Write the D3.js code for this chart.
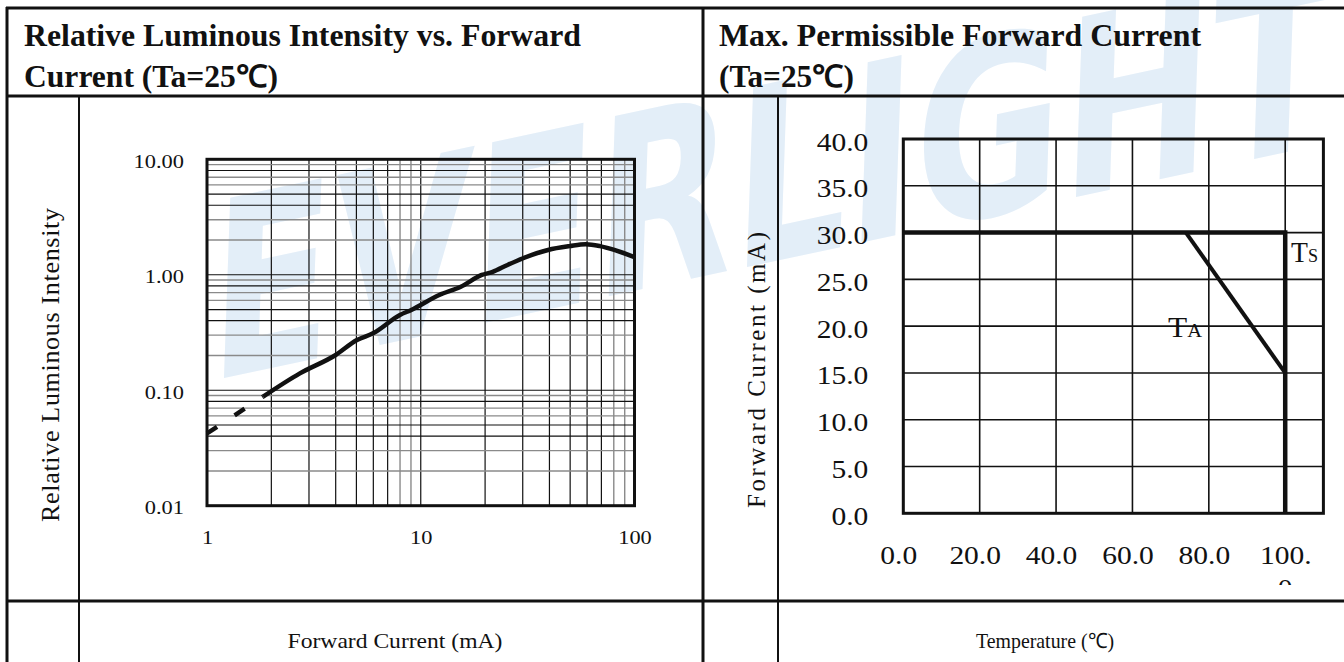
<!DOCTYPE html>
<html>
<head>
<meta charset="utf-8">
<script src="https://cdn.jsdelivr.net/npm/d3@7"></script>
<style>
  body { margin: 0; background: #fff; }
  svg { display: block; }
</style>
</head>
<body>
<div id="chart"></div>
<script>
// ---- data ----
var lumCurrent   = [1.83, 2.72, 4.0, 5.03, 5.98, 7.99, 9.03, 12.2, 15.4, 19.3, 21.7, 25.3, 30.1, 39.4, 49.7, 59.1, 68.9, 80.4, 100];
var lumIntensity = [0.088, 0.140, 0.202, 0.272, 0.311, 0.449, 0.496, 0.668, 0.787, 0.996, 1.06, 1.21, 1.39, 1.64, 1.77, 1.84, 1.77, 1.64, 1.42];
var dashCurrent   = [1, 1.83];
var dashIntensity = [0.0423, 0.088];
var lumXTicks = [1, 10, 100];
var lumYTicks = [0.01, 0.1, 1, 10];

var tsTemp    = [0, 100, 100];
var tsCurrent = [30, 30, 0];
var taTemp    = [74, 100];
var taCurrent = [30, 15];
var tempTicks = [0, 20, 40, 60, 80, 100];
var tempTickLabels = ["0.0", "20.0", "40.0", "60.0", "80.0", "100."];
var curTicks = [0, 5, 10, 15, 20, 25, 30, 35, 40];

var SX = 1.18;   // the scan is a bit wider than tall
var SERIF = "'Liberation Serif','Times New Roman',Times,serif";
var INK = "#111";

var svg = d3.select("#chart").append("svg")
    .attr("width", 1344)
    .attr("height", 662);

svg.append("rect").attr("width", 1344).attr("height", 662).attr("fill", "#fff");

// watermark
svg.append("text")
    .attr("transform", "translate(770,262) rotate(-12) skewX(-14)")
    .attr("text-anchor", "middle")
    .attr("font-family", "'DejaVu Sans',sans-serif")
    .attr("font-weight", "bold")
    .attr("font-size", 240)
    .attr("textLength", 1150)
    .attr("lengthAdjust", "spacingAndGlyphs")
    .attr("fill", "#e3eef8")
    .text("EVERLIGHT");

function txt(g, x, y, s, size, anchor) {
    return g.append("text")
        .attr("transform", "translate(" + x + "," + y + ") scale(" + SX + ",1)")
        .attr("text-anchor", anchor || "start")
        .attr("font-family", SERIF)
        .attr("font-size", size)
        .attr("fill", INK)
        .text(s);
}

function fitted(x, y, s, size, len, weight) {
    return svg.append("text")
        .attr("x", x).attr("y", y)
        .attr("font-family", SERIF)
        .attr("font-size", size)
        .attr("font-weight", weight || "normal")
        .attr("textLength", len)
        .attr("lengthAdjust", "spacingAndGlyphs")
        .attr("fill", INK)
        .text(s);
}

// ---- table frame ----
var frame = svg.append("g").attr("stroke", INK).attr("fill", "none");
frame.append("line").attr("x1", 6).attr("x2", 1344).attr("y1", 8).attr("y2", 8).attr("stroke-width", 3);
frame.append("line").attr("x1", 6).attr("x2", 1344).attr("y1", 96).attr("y2", 96).attr("stroke-width", 3);
frame.append("line").attr("x1", 6).attr("x2", 1344).attr("y1", 601).attr("y2", 601).attr("stroke-width", 3);
frame.append("line").attr("x1", 7).attr("x2", 7).attr("y1", 7).attr("y2", 662).attr("stroke-width", 3);
frame.append("line").attr("x1", 703).attr("x2", 703).attr("y1", 7).attr("y2", 662).attr("stroke-width", 3);
frame.append("line").attr("x1", 79).attr("x2", 79).attr("y1", 96).attr("y2", 662).attr("stroke-width", 2);
frame.append("line").attr("x1", 778).attr("x2", 778).attr("y1", 96).attr("y2", 662).attr("stroke-width", 2);

// titles
fitted(24, 46, "Relative Luminous Intensity vs. Forward", 31, 557, "bold");
fitted(24, 87, "Current (Ta=25\u2103)", 31, 254, "bold");
fitted(719, 46, "Max. Permissible Forward Current", 31, 482, "bold");
fitted(719, 87, "(Ta=25\u2103)", 31, 135, "bold");

// ---- left chart: relative luminous intensity ----
var xL = d3.scaleLog().domain([1, 100]).range([207, 634.5]);
var yL = d3.scaleLog().domain([0.01, 10]).range([505.7, 159.3]);

function lead(v) { return Math.round(v / Math.pow(10, Math.floor(Math.log10(v) + 1e-9))); }

var gl = svg.append("g");
gl.selectAll(".vg").data(xL.ticks()).enter().append("line")
    .attr("x1", d => xL(d)).attr("x2", d => xL(d))
    .attr("y1", yL(10)).attr("y2", yL(0.01))
    .attr("stroke", d => [8, 9].indexOf(lead(d)) >= 0 ? "#8a8a8a" : INK)
    .attr("stroke-width", d => [8, 9].indexOf(lead(d)) >= 0 ? 1.4 : 1.2);
gl.selectAll(".hg").data(yL.ticks()).enter().append("line")
    .attr("x1", xL(1)).attr("x2", xL(100))
    .attr("y1", d => yL(d)).attr("y2", d => yL(d))
    .attr("stroke", d => [2, 3, 6, 7, 9].indexOf(lead(d)) >= 0 ? "#8a8a8a" : INK)
    .attr("stroke-width", d => [2, 3, 6, 7, 9].indexOf(lead(d)) >= 0 ? 1.4 : 1.2);
gl.append("rect")
    .attr("x", xL(1)).attr("y", yL(10))
    .attr("width", xL(100) - xL(1)).attr("height", yL(0.01) - yL(10))
    .attr("fill", "none").attr("stroke", INK).attr("stroke-width", 3);

var lumLine = d3.line()
    .x(d => xL(d[0])).y(d => yL(d[1]))
    .curve(d3.curveMonotoneX);
gl.append("path")
    .datum(d3.zip(dashCurrent, dashIntensity))
    .attr("d", lumLine)
    .attr("fill", "none").attr("stroke", INK).attr("stroke-width", 4.5)
    .attr("stroke-dasharray", "12,21");
gl.append("path")
    .datum(d3.zip(lumCurrent, lumIntensity))
    .attr("d", lumLine)
    .attr("fill", "none").attr("stroke", INK).attr("stroke-width", 4.5)
    .attr("stroke-linejoin", "round");

var ayL = gl.append("g")
    .attr("transform", "translate(" + xL(1) + ",0)")
    .call(d3.axisLeft(yL).tickValues(lumYTicks).tickFormat(d3.format(".2f")).tickSize(0));
ayL.select(".domain").remove();
ayL.selectAll("text")
    .attr("x", -23 / SX).attr("dy", 8)
    .attr("transform", "scale(" + SX + ",1)")
    .attr("font-family", SERIF).attr("font-size", 19).attr("fill", INK);

var axL = gl.append("g")
    .attr("transform", "translate(0," + yL(0.01) + ")")
    .call(d3.axisBottom(xL).tickValues(lumXTicks).tickFormat(d3.format("d")).tickSize(0));
axL.select(".domain").remove();
axL.selectAll("text")
    .attr("y", 38.7).attr("dy", 0)
    .attr("transform", "scale(" + SX + ",1)")
    .attr("font-family", SERIF).attr("font-size", 19).attr("fill", INK);

svg.append("text")
    .attr("transform", "translate(59,365) rotate(-90)")
    .attr("text-anchor", "middle")
    .attr("font-family", SERIF).attr("font-size", 26)
    .attr("textLength", 314)
    .attr("fill", INK)
    .text("Relative Luminous Intensity");

txt(svg, 395, 648, "Forward Current (mA)", 20, "middle");

// ---- right chart: max permissible forward current ----
var xR = d3.scaleLinear().domain([0, 110]).range([903.3, 1323.4]);
var yR = d3.scaleLinear().domain([0, 40]).range([513.3, 139]);

var gr = svg.append("g");
gr.selectAll(".vg").data(tempTicks).enter().append("line")
    .attr("x1", d => xR(d)).attr("x2", d => xR(d))
    .attr("y1", yR(40)).attr("y2", yR(0))
    .attr("stroke", INK).attr("stroke-width", 1.6);
gr.selectAll(".hg").data(curTicks).enter().append("line")
    .attr("x1", xR(0)).attr("x2", xR(110))
    .attr("y1", d => yR(d)).attr("y2", d => yR(d))
    .attr("stroke", INK).attr("stroke-width", 1.6);
gr.append("rect")
    .attr("x", xR(0)).attr("y", yR(40))
    .attr("width", xR(110) - xR(0)).attr("height", yR(0) - yR(40))
    .attr("fill", "none").attr("stroke", INK).attr("stroke-width", 3);

var limLine = d3.line().x(d => xR(d[0])).y(d => yR(d[1]));
gr.append("path")
    .datum(d3.zip(tsTemp, tsCurrent))
    .attr("d", limLine)
    .attr("fill", "none").attr("stroke", INK).attr("stroke-width", 4.5);
gr.append("path")
    .datum(d3.zip(taTemp, taCurrent))
    .attr("d", limLine)
    .attr("fill", "none").attr("stroke", INK).attr("stroke-width", 4);

var ayR = gr.append("g")
    .attr("transform", "translate(" + xR(0) + ",0)")
    .call(d3.axisLeft(yR).tickValues(curTicks).tickFormat(d3.format(".1f")).tickSize(0));
ayR.select(".domain").remove();
ayR.selectAll("text")
    .attr("x", -35 / SX).attr("dy", 11)
    .attr("transform", "scale(" + SX + ",1)")
    .attr("font-family", SERIF).attr("font-size", 25).attr("fill", INK);

var axR = gr.append("g")
    .attr("transform", "translate(0," + yR(0) + ")")
    .call(d3.axisBottom(xR).tickValues(tempTicks).tickFormat((d, i) => tempTickLabels[i]).tickSize(0));
axR.select(".domain").remove();
axR.selectAll("text")
    .attr("x", (d, i) => i < tempTicks.length - 1 ? -5 / SX : 0)
    .attr("y", 50.7).attr("dy", 0)
    .attr("transform", "scale(" + SX + ",1)")
    .attr("font-family", SERIF).attr("font-size", 25).attr("fill", INK);

// wrapped last digit of "100.0", cut by the cell
svg.append("clipPath").attr("id", "cut")
    .append("rect").attr("x", 1200).attr("y", 560).attr("width", 150).attr("height", 25);
txt(svg.append("g").attr("clip-path", "url(#cut)"), xR(100), 597, "0", 25, "middle");

// curve labels
var lbTs = svg.append("text")
    .attr("x", 1291).attr("y", 261.7)
    .attr("font-family", SERIF).attr("fill", INK)
    .attr("textLength", 27).attr("lengthAdjust", "spacingAndGlyphs");
lbTs.append("tspan").attr("font-size", 29).text("T");
lbTs.append("tspan").attr("font-size", 19).text("S");

var lbTa = svg.append("text")
    .attr("x", 1168).attr("y", 337.3)
    .attr("font-family", SERIF).attr("fill", INK)
    .attr("textLength", 34).attr("lengthAdjust", "spacingAndGlyphs");
lbTa.append("tspan").attr("font-size", 29).text("T");
lbTa.append("tspan").attr("font-size", 19).text("A");

svg.append("text")
    .attr("transform", "translate(765,370) rotate(-90)")
    .attr("text-anchor", "middle")
    .attr("font-family", SERIF).attr("font-size", 25)
    .attr("textLength", 276)
    .attr("fill", INK)
    .text("Forward Current (mA)");

fitted(1045 - 69, 648, "Temperature (\u2103)", 21, 138);
</script>
</body>
</html>
